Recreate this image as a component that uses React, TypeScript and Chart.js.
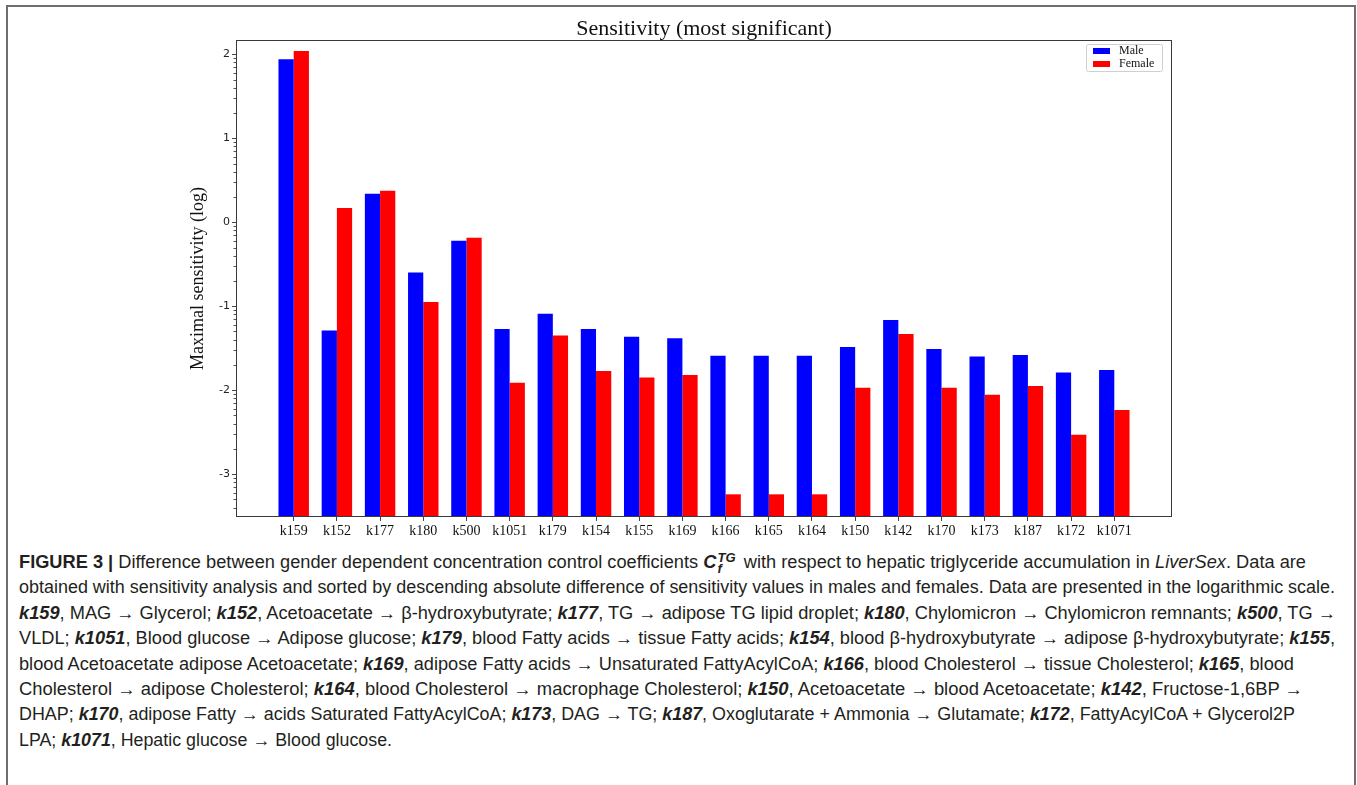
import React, { useEffect, useLayoutEffect, useRef } from "react";
import { Chart, registerables } from "chart.js";

Chart.register(...registerables);

// ---------------- data ----------------
const CATEGORIES = [
  "k159", "k152", "k177", "k180", "k500", "k1051", "k179", "k154", "k155", "k169",
  "k166", "k165", "k164", "k150", "k142", "k170", "k173", "k187", "k172", "k1071",
];
const MALE = [
  1.94, -1.29, 0.34, -0.6, -0.22, -1.27, -1.09, -1.27, -1.365, -1.38,
  -1.59, -1.59, -1.59, -1.485, -1.165, -1.51, -1.6, -1.58, -1.79, -1.76,
];
const FEMALE = [
  2.04, 0.17, 0.375, -0.95, -0.185, -1.91, -1.35, -1.77, -1.85, -1.82,
  -3.24, -3.24, -3.24, -1.97, -1.33, -1.97, -2.055, -1.95, -2.53, -2.235,
];
const SERIES_LABELS = ["Male", "Female"];
const Y_TICKS = [-3, -2, -1, 0, 1, 2];
const MINOR_STEPS = [2, 3, 4, 5, 6, 7, 8, 9];
const Y_MIN = -3.51;
const Y_MAX = 2.17;
const X_MIN = -1.336;
const X_MAX = 20.336;

// ---------------- styles ----------------
const COLORS = ["#0000ff", "#ff0000"];
const CAPTION_LEFT = 19;
const CAPTION_RIGHT = [1306, 1335, 1336, 1335, 1294, 1303, 1295, 392];

const frameAndMinorTicks = {
  id: "frameAndMinorTicks",
  afterDraw(chart: any) {
    const { ctx, chartArea } = chart;
    const y = chart.scales.y;
    ctx.save();
    ctx.strokeStyle = "#3a3a3a";
    ctx.lineWidth = 1;
    ctx.strokeRect(
      chartArea.left + 0.5,
      chartArea.top + 0.5,
      chartArea.right - chartArea.left - 1,
      chartArea.bottom - chartArea.top - 1
    );
    ctx.strokeStyle = "#555";
    ctx.beginPath();
    for (let n = -4; n <= 2; n++) {
      for (const k of MINOR_STEPS) {
        const v = n + Math.log10(k);
        if (v < Y_MIN || v > Y_MAX) continue;
        const py = Math.round(y.getPixelForValue(v)) + 0.5;
        ctx.moveTo(chartArea.left, py);
        ctx.lineTo(chartArea.left - 2.5, py);
      }
    }
    ctx.stroke();
    ctx.restore();
  },
};

const legendBox = {
  id: "legendBox",
  afterDraw(chart: any) {
    const { ctx, chartArea } = chart;
    const w = 76;
    const h = 27;
    const x0 = chartArea.right - 10 - w;
    const y0 = chartArea.top + 4;
    ctx.save();
    ctx.fillStyle = "rgba(255,255,255,0.85)";
    ctx.strokeStyle = "#cfcfcf";
    ctx.lineWidth = 1;
    ctx.beginPath();
    (ctx as any).roundRect(x0 + 0.5, y0 + 0.5, w, h, 2);
    ctx.fill();
    ctx.stroke();
    ctx.font = '12px "Liberation Serif", serif';
    ctx.textBaseline = "middle";
    chart.data.datasets.forEach((ds: any, i: number) => {
      const cy = y0 + 7 + i * 13;
      ctx.fillStyle = ds.backgroundColor;
      ctx.fillRect(x0 + 7, cy - 3, 17, 6);
      ctx.fillStyle = "#111";
      ctx.fillText(ds.label, x0 + 33, cy);
    });
    ctx.restore();
  },
};

function SensitivityChart() {
  const ref = useRef<HTMLCanvasElement | null>(null);
  useEffect(() => {
    if (!ref.current) return;
    const chart = new Chart(ref.current, {
      type: "bar",
      data: {
        datasets: [MALE, FEMALE].map((vals, s) => ({
          label: SERIES_LABELS[s],
          data: vals.map((v, i) => ({ x: i, y: v })),
          backgroundColor: COLORS[s],
          borderWidth: 0,
          base: Y_MIN,
          categoryPercentage: 0.705,
          barPercentage: 1.0,
        })),
      } as any,
      options: {
        animation: false,
        responsive: false,
        layout: { padding: { left: 180, right: 185, top: 0, bottom: 0 } },
        plugins: {
          legend: { display: false },
          tooltip: { enabled: false },
          title: {
            display: true,
            text: "Sensitivity (most significant)",
            fullSize: false,
            color: "#111",
            font: { family: '"Liberation Serif", serif', size: 22, weight: "normal" as any, lineHeight: 1.0 },
            padding: { top: 18, bottom: 0 },
          },
        },
        scales: {
          x: {
            type: "linear",
            offset: false,
            min: X_MIN,
            max: X_MAX,
            afterBuildTicks: (s: any) => {
              s.ticks = CATEGORIES.map((_, i) => ({ value: i }));
            },
            afterFit: (s: any) => {
              s.height = 28;
            },
            ticks: {
              autoSkip: false,
              maxRotation: 0,
              padding: 2,
              color: "#111",
              font: { family: '"Liberation Serif", serif', size: 14 },
              callback: (v: any) => CATEGORIES[v] ?? "",
            },
            grid: { display: true, offset: false, drawOnChartArea: false, drawTicks: true, tickLength: 4, tickColor: "#444" },
            border: { display: false },
          },
          y: {
            type: "linear",
            min: Y_MIN,
            max: Y_MAX,
            afterBuildTicks: (s: any) => {
              s.ticks = Y_TICKS.map((v) => ({ value: v }));
            },
            afterFit: (s: any) => {
              s.width = 56;
            },
            ticks: {
              padding: 2,
              color: "#222",
              font: { family: '"DejaVu Sans", sans-serif', size: 11 },
              callback: (v: any) => String(v),
            },
            grid: { display: true, drawOnChartArea: false, drawTicks: true, tickLength: 4, tickColor: "#444" },
            border: { display: false },
            title: {
              display: true,
              text: "Maximal sensitivity (log)",
              color: "#111",
              font: { family: '"Liberation Serif", serif', size: 18, lineHeight: 1.2 },
              padding: { top: 7, bottom: 0 },
            },
          },
        },
      } as any,
      plugins: [frameAndMinorTicks, legendBox],
    });
    return () => chart.destroy();
  }, []);
  return (
    <canvas
      ref={ref}
      width={1357}
      height={545}
      style={{ position: "absolute", left: 0, top: 0 }}
    />
  );
}

const K = ({ t }: { t: string }) => (
  <b>
    <i>{t}</i>
  </b>
);

const CAPTION_LINES: React.ReactNode[] = [
  <>
    <b>FIGURE 3 |</b> Difference between gender dependent concentration control coefficients{" "}
    <b>
      <i>C</i>
    </b>
    <span
      style={{
        display: "inline-flex",
        flexDirection: "column",
        fontSize: "0.72em",
        lineHeight: "11px",
        verticalAlign: "6px",
        marginLeft: 1,
        marginRight: 3,
      }}
    >
      <b>
        <i>TG</i>
      </b>
      <b>
        <i>f</i>
      </b>
    </span>{" "}
    with respect to hepatic triglyceride accumulation in <i>LiverSex</i>. Data are
  </>,
  <>
    obtained with sensitivity analysis and sorted by descending absolute difference of sensitivity values in males
    and females. Data are presented in the logarithmic scale.
  </>,
  <>
    <K t="k159" />, MAG → Glycerol; <K t="k152" />, Acetoacetate → β-hydroxybutyrate; <K t="k177" />, TG → adipose
    TG lipid droplet; <K t="k180" />, Chylomicron → Chylomicron remnants; <K t="k500" />, TG →
  </>,
  <>
    VLDL; <K t="k1051" />, Blood glucose → Adipose glucose; <K t="k179" />, blood Fatty acids → tissue Fatty acids;{" "}
    <K t="k154" />, blood β-hydroxybutyrate → adipose β-hydroxybutyrate; <K t="k155" />,
  </>,
  <>
    blood Acetoacetate adipose Acetoacetate; <K t="k169" />, adipose Fatty acids → Unsaturated FattyAcylCoA;{" "}
    <K t="k166" />, blood Cholesterol → tissue Cholesterol; <K t="k165" />, blood
  </>,
  <>
    Cholesterol → adipose Cholesterol; <K t="k164" />, blood Cholesterol → macrophage Cholesterol; <K t="k150" />,
    Acetoacetate → blood Acetoacetate; <K t="k142" />, Fructose-1,6BP →
  </>,
  <>
    DHAP; <K t="k170" />, adipose Fatty → acids Saturated FattyAcylCoA; <K t="k173" />, DAG → TG; <K t="k187" />,
    Oxoglutarate + Ammonia → Glutamate; <K t="k172" />, FattyAcylCoA + Glycerol2P
  </>,
  <>
    LPA; <K t="k1071" />, Hepatic glucose → Blood glucose.
  </>,
];

function Caption() {
  const refs = useRef<(HTMLSpanElement | null)[]>([]);
  useLayoutEffect(() => {
    refs.current.forEach((el, i) => {
      if (!el) return;
      el.style.transform = "none";
      const w = el.getBoundingClientRect().width;
      const target = CAPTION_RIGHT[i] - CAPTION_LEFT;
      if (w > 0) el.style.transform = `scaleX(${target / w})`;
    });
  }, []);
  return (
    <div
      style={{
        position: "absolute",
        left: CAPTION_LEFT,
        top: 550,
        fontFamily: '"Liberation Sans", Arial, sans-serif',
        fontSize: 17.5,
        color: "#231f20",
        lineHeight: "25.4px",
      }}
    >
      {CAPTION_LINES.map((node, i) => (
        <div key={i} style={{ whiteSpace: "nowrap", height: 25.4 }}>
          <span
            ref={(el) => {
              refs.current[i] = el;
            }}
            style={{ display: "inline-block", transformOrigin: "0 50%" }}
          >
            {node}
          </span>
        </div>
      ))}
    </div>
  );
}

export default function App() {
  return (
    <div style={{ position: "relative", width: 1357, height: 785, overflow: "hidden", background: "#fff" }}>
      <style>{`body{margin:0;background:#fff;}`}</style>
      <div
        style={{
          position: "absolute",
          left: 6,
          top: 5,
          width: 1350,
          height: 820,
          border: "2px solid #6e6e6e",
          boxSizing: "border-box",
        }}
      />
      <SensitivityChart />
      <Caption />
    </div>
  );
}
